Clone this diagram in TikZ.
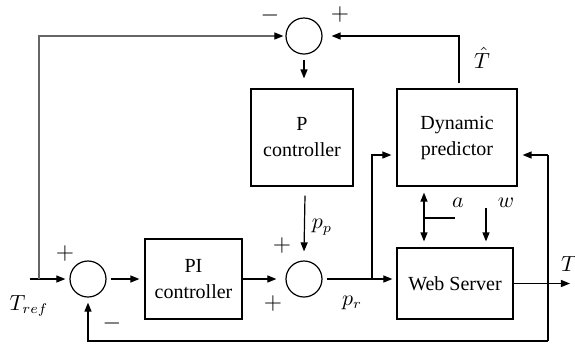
\documentclass[tikz,border=0pt]{standalone}
\usepackage{fontspec}
\setmainfont{Liberation Serif}
\usetikzlibrary{arrows.meta,calc}
\begin{document}
\begin{tikzpicture}[x=0.5pt,y=-0.5pt,
  line width=0.6pt,
  arr/.style={-{Triangle[length=4.5pt,width=3.5pt,color=black]}},
  darr/.style={{Triangle[length=4.5pt,width=3.5pt]}-{Triangle[length=4.5pt,width=3.5pt]}},
  sumnode/.style={circle,draw,minimum size=18pt,inner sep=0pt},
  blk/.style={draw,align=center,inner sep=0pt,font=\fontsize{10pt}{13pt}\selectfont},
  sgn/.style={inner sep=0pt,font=\fontsize{11.5pt}{12pt}\selectfont},
  lbl/.style={inner sep=0pt,font=\fontsize{10.5pt}{12pt}\selectfont},
  fbline/.style={draw=black!60}]
\useasboundingbox (0,0) rectangle (575,345);
% summing junctions
\node[sumnode] (s1) at (304,36) {};
\node[sumnode] (s2) at (88,279) {};
\node[sumnode] (s3) at (304,279) {};
% blocks
\node[blk,minimum width=51pt,minimum height=48.5pt] (P) at (302,137.5) {P\\controller};
\node[blk,minimum width=60pt,minimum height=48.5pt] (DP) at (457,137.5) {Dynamic\\predictor};
\node[blk,minimum width=48.5pt,minimum height=40pt] (PI) at (193.5,279) {PI\\controller};
\node[blk,minimum width=58pt,minimum height=35.5pt] (WS) at (455,283.5) {Web Server};
% signs
\node[sgn] (m1) at (270,15) {$-$};
\node[sgn] (p1) at (340,14) {$+$};
\node[sgn] (p2) at (65,253) {$+$};
\node[sgn] (m2) at (112,323) {$-$};
\node[sgn] (p3) at (282,245) {$+$};
\node[sgn] (p4) at (273,303) {$+$};
% labels
\node[lbl] (ltref) at (29,306) {$T_{ref}$};
\node[lbl] (lthat) at (482,58) {$\hat{T}$};
\node[lbl] (lpp) at (322,227) {$p_p$};
\node[lbl] (lpr) at (352,303) {$p_r$};
\node[lbl] (lT) at (569,264) {$T$};
\node[lbl] (la) at (458,203) {$a$};
\node[lbl] (lw) at (506,203) {$w$};
% coordinates
\coordinate (tin) at (30,279);
\coordinate (tv) at (39,279);
\coordinate (br) at (372,279);
\coordinate (tout) at (570,283.5);
\coordinate (fbt) at (548,155);
\coordinate (fbb) at (548,341);
\coordinate (aj) at (424,218);
\coordinate (ae) at (455,218);
\coordinate (win) at (486,208);
% connectors
\draw[arr] (tin) -- ([xshift=-2pt]s2.west);
\draw[arr,fbline] (tv) |- ([xshift=-1pt]s1.west);
\draw[arr] ([xshift=2pt]s2.east) -- ([xshift=-2.5pt]PI.west);
\draw[arr] (PI.east) -- ([xshift=-4.5pt]s3.west);
\draw[arr] ([xshift=2pt]s3.east) -- ([xshift=-2pt]WS.west |- s3.east);
\draw[arr] (br) |- ([xshift=-2.5pt,yshift=-8.75pt]DP.west);
\draw[arr] (WS.east) -- (tout);
\draw (fbb) -- (fbt);
\draw[arr] (fbt) -- ([xshift=2.5pt,yshift=-8.75pt]DP.east);
\draw[arr] (fbb) -| ([yshift=-2.5pt]s2.south);
\draw[arr] ([xshift=1pt,yshift=2.5pt]DP.north) |- ([xshift=4.5pt]s1.east);
\draw[arr] ([yshift=-2.5pt]s1.south) -- ([yshift=5pt]s1.south |- P.north);
\draw[arr] ([yshift=-4.5pt,xshift=1.5pt]P.south) -- ([yshift=4.5pt]s3.north);
\draw[darr] ([yshift=-3pt]aj |- DP.south) -- ([yshift=3pt]aj |- WS.north);
\draw (aj) -- (ae);
\draw[arr] (win) -- ([yshift=3pt]win |- WS.north);
\end{tikzpicture}
\end{document}
